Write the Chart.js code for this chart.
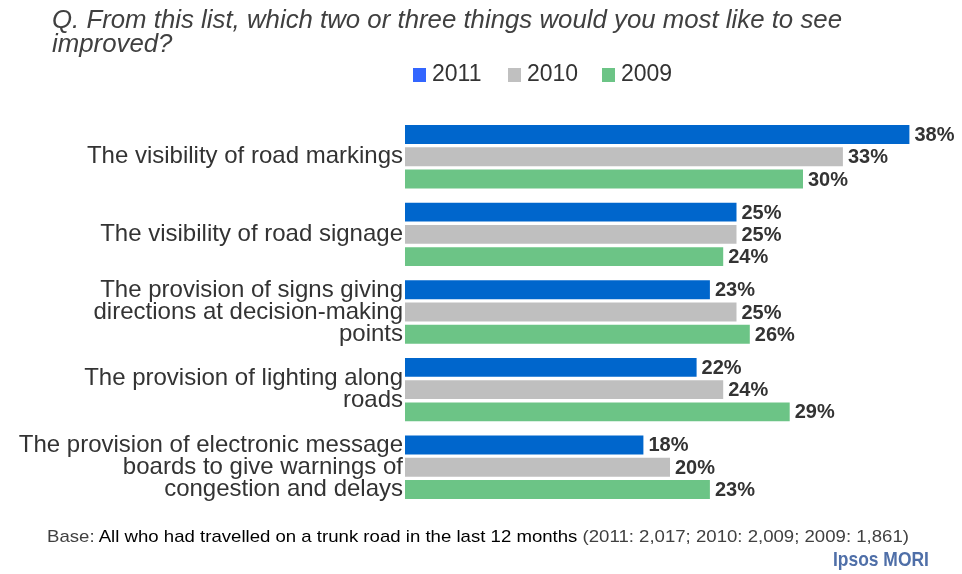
<!DOCTYPE html>
<html>
<head>
<meta charset="utf-8">
<script src="https://cdn.jsdelivr.net/npm/chart.js@4.4.1/dist/chart.umd.min.js"></script>
<style>
  body { margin: 0; background: #fff; font-family: "Liberation Sans", Arial, sans-serif; }
  #wrap { position: relative; width: 962px; height: 574px; overflow: hidden; }
  #chartImprove { position: absolute; left: 0; top: 0; }
  .question { position: absolute; left: 52px; top: 7px; font-size: 25.8px; line-height: 24px; font-style: italic; color: #404040; white-space: nowrap; }
  .legend { position: absolute; top: 60px; font-size: 23px; color: #333; white-space: nowrap; }
  .legend i { display: inline-block; width: 13px; height: 14px; margin-right: 6px; vertical-align: -1px; }
  .base { position: absolute; left: 47px; top: 527px; font-size: 17px; color: #000; white-space: nowrap; transform: scaleX(1.094); transform-origin: left; }
  .base .grey { color: #404040; }
  .logo { position: absolute; left: 833px; top: 547px; font-size: 21px; font-weight: bold; color: #4f6fa8; transform: scaleX(0.83); transform-origin: left; white-space: nowrap; }
</style>
</head>
<body>
<div id="wrap">
  <canvas id="chartImprove" width="962" height="574"></canvas>
  <div class="question">Q. From this list, which two or three things would you most like to see<br>improved?</div>
  <div class="legend" style="left:413px"><i style="background:#3366ff"></i>2011</div>
  <div class="legend" style="left:508px"><i style="background:#c0c0c0"></i>2010</div>
  <div class="legend" style="left:602px"><i style="background:#6cc486"></i>2009</div>
  <div class="base"><span class="grey">Base:</span> All who had travelled on a trunk road in the last 12 months <span class="grey">(2011: 2,017; 2010: 2,009; 2009: 1,861)</span></div>
  <div class="logo">Ipsos MORI</div>
</div>
<script>
const categories = [
  ['The visibility of road markings'],
  ['The visibility of road signage'],
  ['The provision of signs giving', 'directions at decision-making', 'points'],
  ['The provision of lighting along', 'roads'],
  ['The provision of electronic message', 'boards to give warnings of', 'congestion and delays']
];
const years = ['2011', '2010', '2009'];
const values2011 = [38, 25, 23, 22, 18];
const values2010 = [33, 25, 25, 24, 20];
const values2009 = [30, 24, 26, 29, 23];

// percent labels at the end of each bar
const barLabels = {
  id: 'barLabels',
  afterDatasetsDraw(chart) {
    const ctx = chart.ctx;
    ctx.save();
    ctx.font = 'bold 20px "Liberation Sans", Arial, sans-serif';
    ctx.fillStyle = '#333333';
    ctx.textAlign = 'left';
    ctx.textBaseline = 'middle';
    chart.data.datasets.forEach((ds, i) => {
      chart.getDatasetMeta(i).data.forEach((bar, j) => {
        ctx.fillText(ds.data[j] + '%', bar.x + 4, bar.y + 1);
      });
    });
    ctx.restore();
  }
};

new Chart('chartImprove', {
  type: 'bar',
  data: {
    labels: categories,
    datasets: [
      { label: years[0], data: values2011, backgroundColor: '#0066cc' },
      { label: years[1], data: values2010, backgroundColor: '#bfbfbf' },
      { label: years[2], data: values2009, backgroundColor: '#6cc486' }
    ]
  },
  options: {
    indexAxis: 'y',
    responsive: false,
    animation: false,
    categoryPercentage: 0.86,
    barPercentage: 0.94,
    borderWidth: 1,
    borderColor: 'rgba(255,255,255,0.4)',
    layout: { padding: { top: 118, bottom: 68, left: 0, right: 25 } },
    plugins: {
      legend: { display: false },
      tooltip: { enabled: false }
    },
    scales: {
      x: { display: false, min: 0, max: 40 },
      y: {
        grid: { display: false, drawTicks: false },
        border: { display: false },
        afterFit(scale) { scale.width = 405; },
        ticks: {
          padding: 2,
          color: '#333333',
          font: { family: '"Liberation Sans", Arial, sans-serif', size: 24, lineHeight: 0.92 }
        }
      }
    }
  },
  plugins: [barLabels]
});
</script>
</body>
</html>
